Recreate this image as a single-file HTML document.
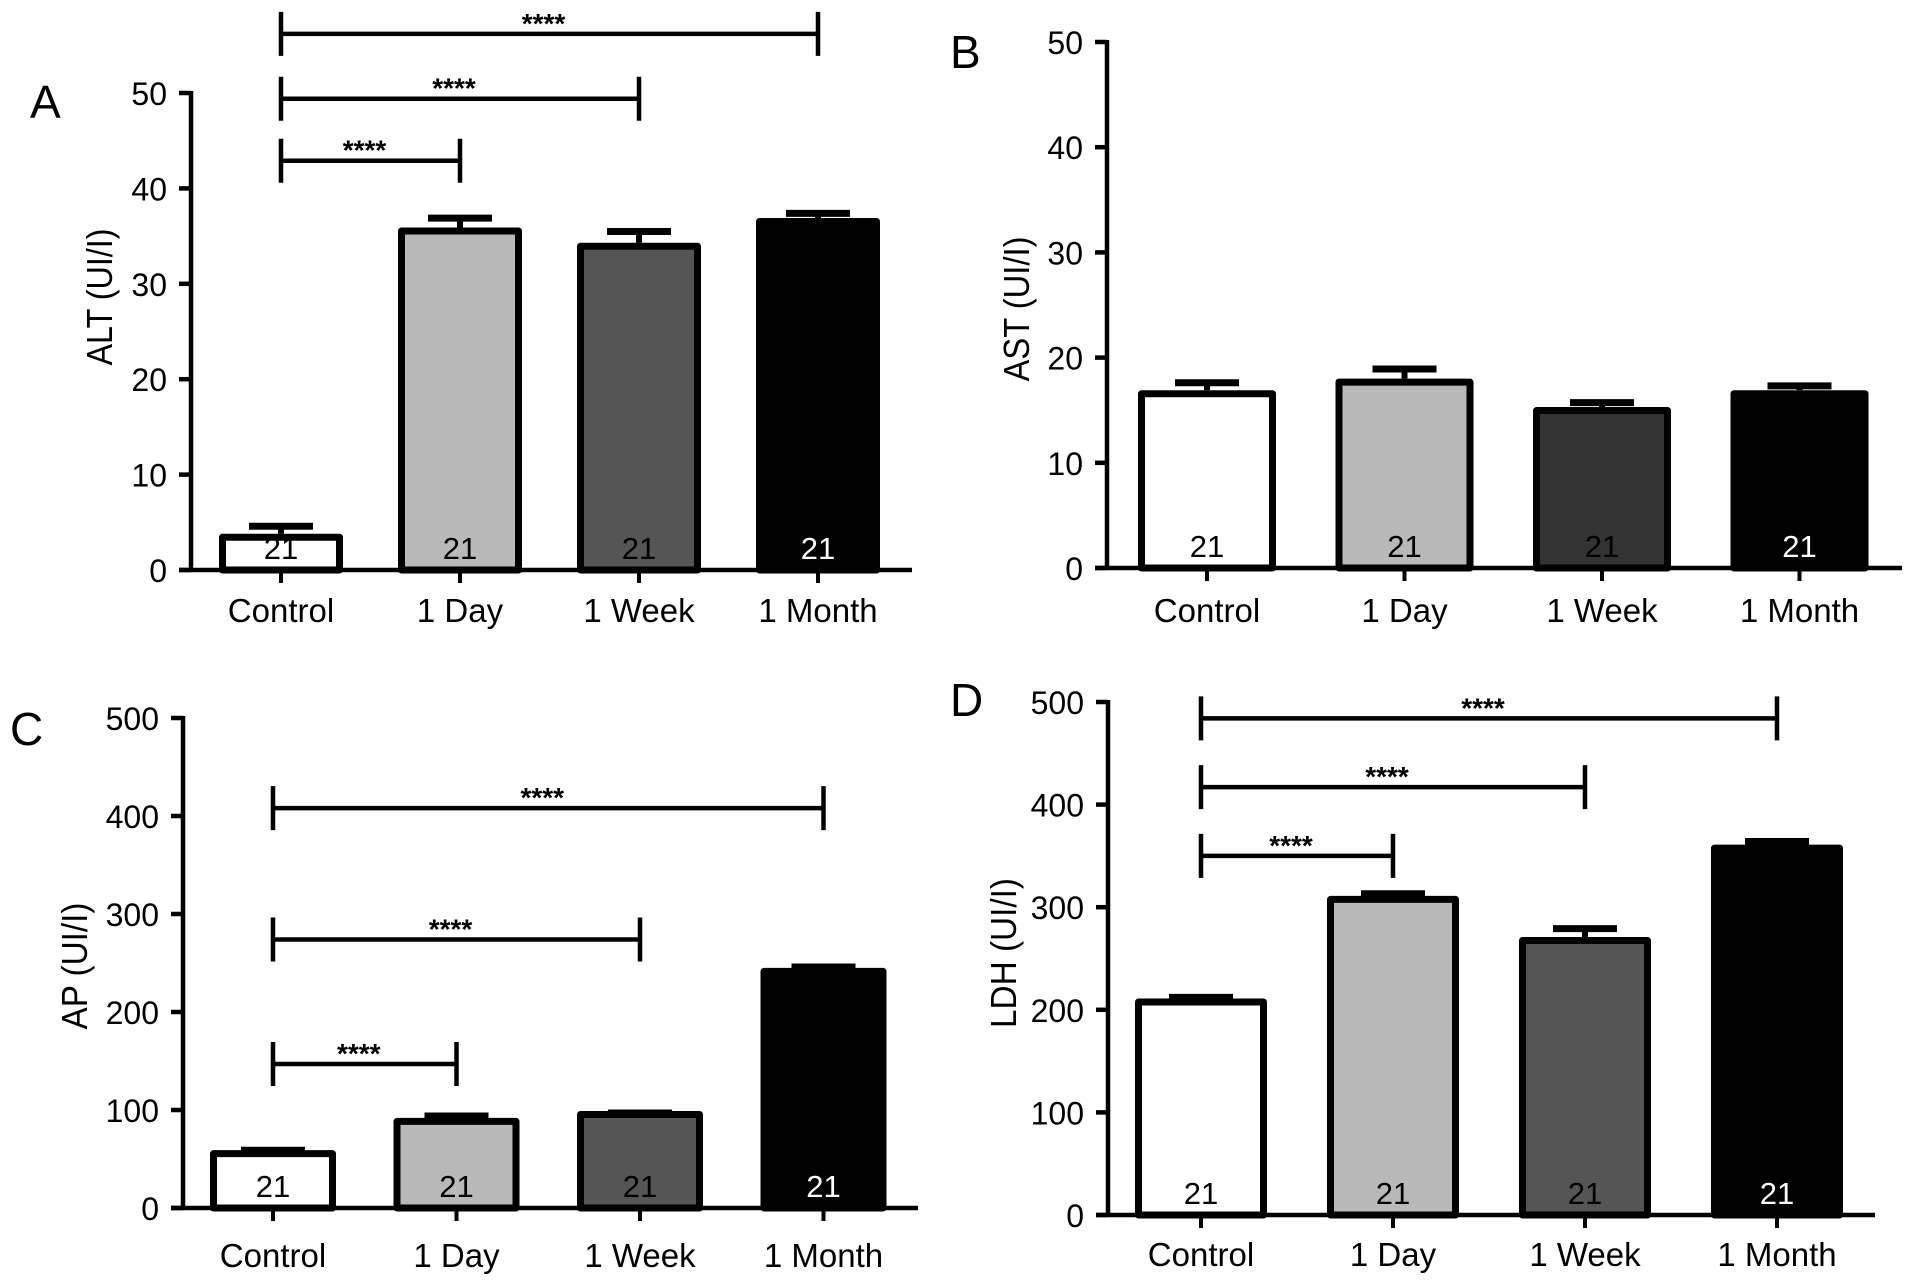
<!DOCTYPE html>
<html><head><meta charset="utf-8">
<style>
html,body{margin:0;padding:0;background:#fff;}
svg{display:block;font-family:"Liberation Sans",Arial,sans-serif;}
</style></head>
<body>
<svg id="fig" width="1913" height="1288" viewBox="0 0 1913 1288" xmlns="http://www.w3.org/2000/svg"></svg>
<script>
const categories = ["Control", "1 Day", "1 Week", "1 Month"];
const nLabels = ["21", "21", "21", "21"];
const altValues = [3.8, 35.9, 34.3, 36.9];
const altErrors = [4.9, 37.2, 35.8, 37.7];
const astValues = [16.9, 18.0, 15.3, 16.9];
const astErrors = [17.9, 19.2, 16.0, 17.6];
const apValues = [59, 92, 99, 245];
const apErrors = [62, 97, 100, 249];
const ldhValues = [211, 311, 271, 361];
const ldhErrors = [215, 316, 282, 367];
const ticks50 = [0, 10, 20, 30, 40, 50];
const ticks500 = [0, 100, 200, 300, 400, 500];
const altBrackets = [[0, 3, 56.2], [0, 2, 49.4], [0, 1, 42.9]];
const apBrackets = [[0, 3, 408], [0, 2, 274], [0, 1, 147]];
const ldhBrackets = [[0, 3, 484], [0, 2, 417], [0, 1, 350]];
const emptyBrackets = [];

const NS = "http://www.w3.org/2000/svg";
const svg = document.getElementById("fig");
function mk(tag, attrs, parent) {
  const e = document.createElementNS(NS, tag);
  for (const k in attrs) e.setAttribute(k, attrs[k]);
  (parent || svg).appendChild(e);
  return e;
}

function panel(p) {
  const g = mk("g", {});
  
  
  const y = v => p.y0 - (v / p.max) * (p.y0 - p.yTop);
  const x = i => p.x0 + i * p.step;
  const L = mk("text", {x: p.lx, y: p.ly, "font-size": 46}, g);
  L.textContent = p.letter;
  
  
  const t = mk("text", {x: 0, y: 0, "font-size": 36, "text-anchor": "middle",
    textLength: p.titleLen, lengthAdjust: "spacingAndGlyphs",
    transform: `translate(${p.tx},${p.ty}) rotate(-90)`}, g);
  t.textContent = p.title;
  
  
  p.values.forEach((v, i) => {
    const cx = x(i), top = y(v), et = y(p.errors[i]);
    const eb = mk("line", {x1: cx, x2: cx, y1: top, y2: et, stroke: "#000", "stroke-width": 6}, g);
    
    
    const ec = mk("line", {x1: cx - 32, x2: cx + 32, y1: et + 3, y2: et + 3, stroke: "#000", "stroke-width": 7}, g);
    
    
    const r = mk("rect", {x: cx - p.bw / 2 + 3.5, y: top + 3.5, width: p.bw - 7, height: Math.max(0, p.y0 - top - 3.5),
      fill: p.colors[i], stroke: "#000", "stroke-width": 7, "stroke-linejoin": "round"}, g);
    
    
    const n = mk("text", {x: cx, y: p.y0 - 11, "font-size": 31, "text-anchor": "middle",
      fill: i === 3 ? "#fff" : "#000"}, g);
    n.textContent = nLabels[i];
    
    
    const tk = mk("line", {x1: cx, x2: cx, y1: p.y0, y2: p.y0 + 13, stroke: "#000", "stroke-width": 4}, g);
    
    
    const cl = mk("text", {x: cx, y: p.catY, "font-size": 33, "text-anchor": "middle"}, g);
    cl.textContent = categories[i];
    
    
  });
  const ya = mk("line", {x1: p.ax, x2: p.ax, y1: p.yTop - 2, y2: p.y0 + 2, stroke: "#000", "stroke-width": 4.5}, g);
  
  
  const xa = mk("line", {x1: p.ax - 12, x2: p.xEnd, y1: p.y0, y2: p.y0, stroke: "#000", "stroke-width": 4.5}, g);
  
  
  p.ticks.forEach(v => {
    const tk = mk("line", {x1: p.ax - 12, x2: p.ax, y1: y(v), y2: y(v), stroke: "#000", "stroke-width": 4.5}, g);
    
    
    const tl = mk("text", {x: p.ax - 24, y: y(v) + 12, "font-size": 32, "text-anchor": "end"}, g);
    tl.textContent = v;
    
    
  });
  p.brackets.forEach(b => {
    const by = y(b[2]), x1 = x(b[0]), x2 = x(b[1]);
    const bg = mk("g", {}, g);
    
    
    mk("line", {x1: x1, x2: x2, y1: by, y2: by, stroke: "#000", "stroke-width": 4.5}, bg);
    mk("line", {x1: x1, x2: x1, y1: by - 22, y2: by + 22, stroke: "#000", "stroke-width": 4.5}, bg);
    mk("line", {x1: x2, x2: x2, y1: by - 22, y2: by + 22, stroke: "#000", "stroke-width": 4.5}, bg);
    const st = mk("text", {x: (x1 + x2) / 2 - 6, y: by - 1, "font-size": 28, "font-weight": "bold", "text-anchor": "middle"}, bg);
    st.textContent = "****";
  });
}

panel({letter: "A", lx: 30, ly: 118, title: "ALT (UI/I)", titleLen: 137, tx: 112, ty: 297,
  values: altValues, errors: altErrors, ticks: ticks50, max: 50, brackets: altBrackets,
  ax: 191, y0: 570, yTop: 93, x0: 281, step: 179, bw: 124, xEnd: 912, catY: 622,
  colors: ["#fff", "#b9b9b9", "#555", "#000"]});
panel({letter: "B", lx: 950, ly: 68, title: "AST (UI/I)", titleLen: 145, tx: 1029, ty: 309,
  values: astValues, errors: astErrors, ticks: ticks50, max: 50, brackets: emptyBrackets,
  ax: 1107, y0: 568, yTop: 42, x0: 1207, step: 197.5, bw: 138, xEnd: 1902, catY: 622,
  colors: ["#fff", "#b9b9b9", "#333", "#000"]});
panel({letter: "C", lx: 10, ly: 745, title: "AP (UI/I)", titleLen: 127, tx: 87, ty: 966,
  values: apValues, errors: apErrors, ticks: ticks500, max: 500, brackets: apBrackets,
  ax: 183, y0: 1208, yTop: 718, x0: 273, step: 183.5, bw: 126, xEnd: 918, catY: 1267,
  colors: ["#fff", "#b9b9b9", "#555", "#000"]});
panel({letter: "D", lx: 950, ly: 716, title: "LDH (UI/I)", titleLen: 150, tx: 1016, ty: 953,
  values: ldhValues, errors: ldhErrors, ticks: ticks500, max: 500, brackets: ldhBrackets,
  ax: 1108, y0: 1215, yTop: 702, x0: 1201, step: 192, bw: 132, xEnd: 1875, catY: 1266,
  colors: ["#fff", "#b9b9b9", "#555", "#000"]});
</script>
</body></html>
